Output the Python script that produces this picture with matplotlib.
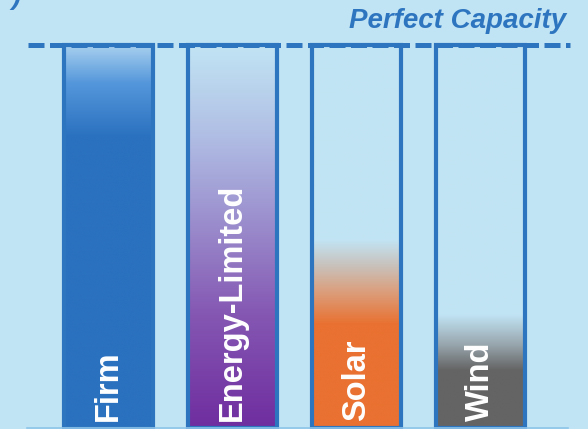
import numpy as np
import matplotlib
matplotlib.use('Agg')
import matplotlib.pyplot as plt
from matplotlib.colors import to_rgb

# Data: capacity as a fraction of "perfect capacity"
categories = ['Firm', 'Energy-Limited', 'Solar', 'Wind']
capacity = [1.0, 1.0, 1.0, 1.0]          # outline height of every bar
# gradient stops (level, colour), level in capacity units
gradients = [
    [(0.0, '#2a71bf'), (0.76, '#2a71bf'), (0.90, '#5597db'), (1.0, '#a9d1ef')],
    [(0.0, '#6f2d9f'), (0.30, '#8558b3'), (0.60, '#a19cd4'), (0.76, '#b0bde4'),
     (0.88, '#b9d2ec'), (1.0, '#c1e4f4')],
    [(0.0, '#e97131'), (0.27, '#e97131'), (0.36, '#daa181'), (0.42, '#c9c0b9'),
     (0.49, '#c1e4f4'), (1.0, '#c1e4f4')],
    [(0.0, '#646464'), (0.15, '#646464'), (0.22, '#9aa9b1'), (0.295, '#c1e4f4'),
     (1.0, '#c1e4f4')],
]
perfect_label = 'Perfect Capacity'

BG = '#c1e4f4'
EDGE = '#2e75c0'
FONT = ['Liberation Sans', 'DejaVu Sans']


def gradient_image(stops, n=400):
    """Vertical RGB strip built from (level, colour) stops, bottom row first"""
    levels = np.array([s[0] for s in stops])
    cols = np.array([to_rgb(s[1]) for s in stops])
    y = np.linspace(0, 1, n)
    rgb = np.stack([np.interp(y, levels, cols[:, k]) for k in range(3)], axis=1)
    return rgb[:, None, :]


fig = plt.figure(figsize=(5.88, 4.29), dpi=100, facecolor=BG)
ax = fig.add_axes([0, 0, 1, 1])
ax.set_facecolor(BG)

x = np.arange(len(categories))
width = 0.718

for xi, top, stops in zip(x, capacity, gradients):
    ax.imshow(gradient_image(stops), origin='lower', aspect='auto',
              extent=[xi - width / 2, xi + width / 2, 0, top],
              interpolation='bilinear', zorder=1)

ax.bar(x, capacity, width=width, fill=False, edgecolor=EDGE, linewidth=3, zorder=2)

# perfect capacity reference line and baseline
ax.axhline(1.0, xmin=0.048, xmax=0.969, color=EDGE, linewidth=3.6,
           dashes=(3.2, 1.1), zorder=3)
ax.axhline(0.0, xmin=0.046, xmax=0.966, color='#8ec5ea', linewidth=1.2, zorder=3)

for xi, name in zip(x, categories):
    ax.text(xi, 0.018, name, rotation=90, ha='center', va='bottom',
            color='white', fontsize=23.5, fontweight='bold', family=FONT, zorder=4)

ax.text(0.963, 0.935, perfect_label, transform=ax.transAxes, ha='right',
        va='baseline', color=EDGE, fontsize=20, fontweight='bold',
        style='italic', family=FONT)
# cut-off glyph at the top-left corner (only its tail shows in the original)
fig.text(0.02, 0.991, ')', ha='left', va='baseline', color=EDGE, fontsize=20,
         fontweight='bold', style='italic', family=FONT)

ax.set_xlim(-0.875, 3.867)
ax.set_ylim(-0.0026, 1.1175)
ax.axis('off')

fig.savefig('out.png', dpi=100, facecolor=BG)
